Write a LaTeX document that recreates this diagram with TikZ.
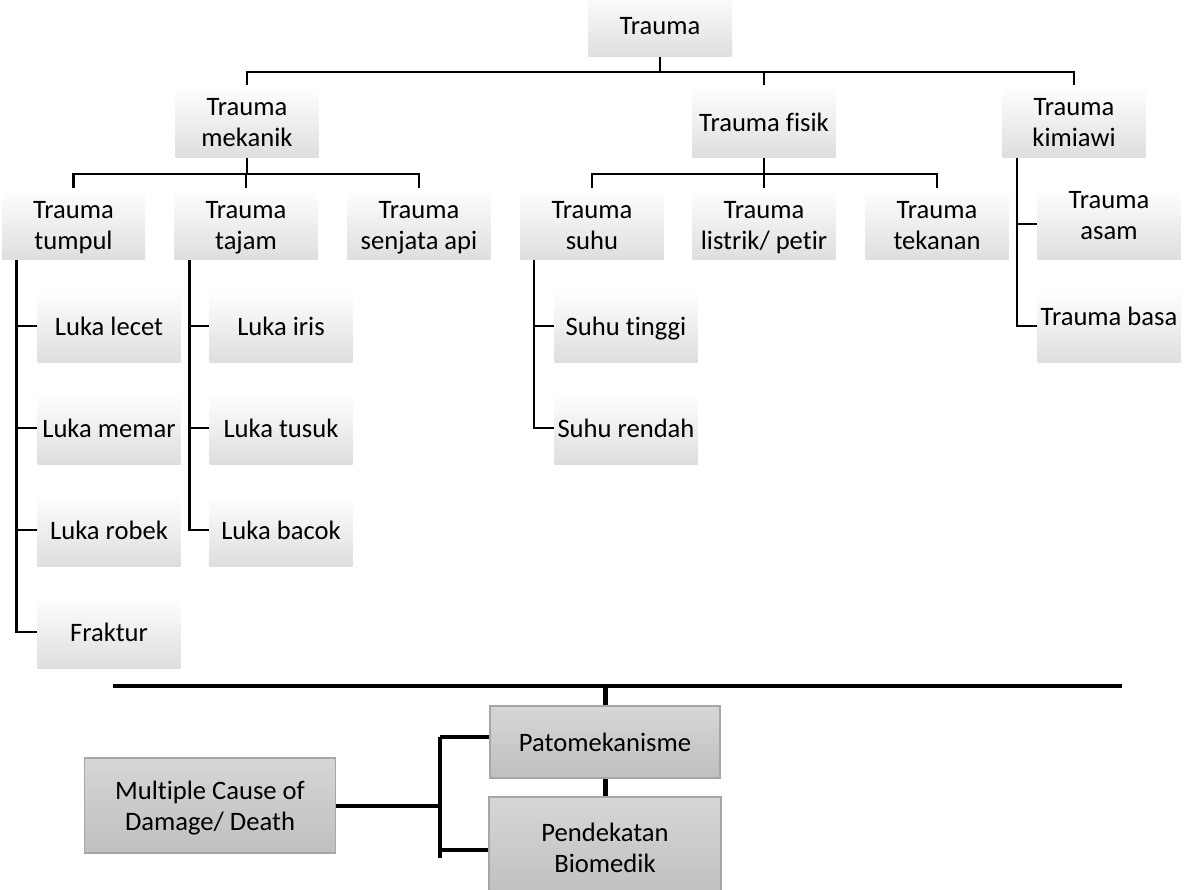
\documentclass[tikz,border=0pt]{standalone}
\usepackage{fontspec}
\setmainfont{Carlito}[Ligatures={NoCommon}]
\newcommand{\mydep}{\vphantom{gp}}
\newcommand{\mytop}{\rule{0pt}{24.5pt}}
\begin{document}
\begin{tikzpicture}[x=1pt,y=-1pt,
 tl/.style={line width=2.6pt},
 bl/.style={line width=4pt},
 vbl/.style={line width=5pt},
 every node/.style={font=\fontsize{26.6}{31}\selectfont},
 tbox/.style={minimum width=143pt, minimum height=72pt, inner sep=0pt, align=center,
   top color=white, middle color=white, bottom color=black!13},
 tbare/.style={minimum width=143pt, minimum height=72pt, inner sep=0pt,
   top color=white, middle color=white, bottom color=black!13},
 ttext/.style={inner sep=0pt, align=center},
 bbox/.style={draw=black!35, line width=1.5pt, top color=black!16, bottom color=black!25,
   align=center, inner sep=0pt}
]
\fill[white] (0,0) rectangle (1185,890);
\useasboundingbox (0,0) rectangle (1185,890);

% level 1
\node[tbox, minimum height=64pt, minimum width=144pt] (trauma) at (660,25) {\mytop Trauma\mydep};
% level 2
\node[tbox] (mek) at (247,121.5) {\mytop Trauma\\mekanik\mydep};
\node[tbox] (fis) at (764,121.5) {\mytop Trauma fisik\mydep};
\node[tbox] (kim) at (1074,121.5) {\mytop Trauma\\kimiawi\mydep};
% level 3
\node[tbox] (tum) at (73.5,224) {\mytop Trauma\\tumpul\mydep};
\node[tbox] (taj) at (246,224) {\mytop Trauma\\tajam\mydep};
\node[tbox] (sen) at (419,224) {\mytop Trauma\\senjata api\mydep};
\node[tbox] (suh) at (592,224) {\mytop Trauma\\suhu\mydep};
\node[tbox] (lis) at (764,224) {\mytop Trauma\\listrik/ petir\mydep};
\node[tbox] (tek) at (937,224) {\mytop Trauma\\tekanan\mydep};
\node[tbare] (asam) at (1109,224) {};
\node[ttext] (asamt) at (1109,214) {\mytop Trauma\\asam\mydep};
\node[tbare] (basa) at (1109,326) {};
\node[ttext] (basat) at (1109,316) {\mytop Trauma basa\mydep};
% level 4
\node[tbox] (lecet) at (109,326) {\mytop Luka lecet\mydep};
\node[tbox] (memar) at (109,428) {\mytop Luka memar\mydep};
\node[tbox] (robek) at (109,530) {\mytop Luka robek\mydep};
\node[tbox] (fraktur) at (109,632) {\mytop Fraktur\mydep};
\node[tbox] (iris) at (281,326) {\mytop Luka iris\mydep};
\node[tbox] (tusuk) at (281,428) {\mytop Luka tusuk\mydep};
\node[tbox] (bacok) at (281,530) {\mytop Luka bacok\mydep};
\node[tbox] (tinggi) at (626,326) {\mytop Suhu tinggi\mydep};
\node[tbox] (rendah) at (626,428) {\mytop Suhu rendah\mydep};

% connectors level 1-2
\coordinate (j0) at (660,72);
\draw[tl] (trauma.south) -- (j0);
\draw[tl] (mek.north) -- (mek.north |- j0) -- (kim.north |- j0) -- (kim.north);
\draw[tl] (fis.north) -- (fis.north |- j0);
% level 2-3
\coordinate (j1) at (247,174);
\draw[tl] (mek.south) -- (j1);
\draw[tl] (tum.north) -- (tum.north |- j1) -- (sen.north |- j1) -- (sen.north);
\draw[tl] (taj.north) -- (taj.north |- j1);
\coordinate (j2) at (764,174);
\draw[tl] (fis.south) -- (j2);
\draw[tl] (suh.north) -- (suh.north |- j2) -- (tek.north |- j2) -- (tek.north);
\draw[tl] (lis.north) -- (lis.north |- j2);
% hanging
\draw[tl] ([xshift=14.5pt]tum.south west) |- (lecet.west);
\draw[tl] ([xshift=14.5pt]tum.south west) |- (memar.west);
\draw[tl] ([xshift=14.5pt]tum.south west) |- (robek.west);
\draw[tl] ([xshift=14.5pt]tum.south west) |- (fraktur.west);
\draw[tl] ([xshift=15pt]taj.south west) |- (iris.west);
\draw[tl] ([xshift=15pt]taj.south west) |- (tusuk.west);
\draw[tl] ([xshift=15pt]taj.south west) |- (bacok.west);
\draw[tl] ([xshift=13.5pt]suh.south west) |- (tinggi.west);
\draw[tl] ([xshift=13.5pt]suh.south west) |- (rendah.west);
\draw[tl] ([xshift=14.5pt]kim.south west) |- (asam.west);
\draw[tl] ([xshift=14.5pt]kim.south west) |- (basa.west);

% bottom part
\coordinate (h1) at (113,686);
\coordinate (h2) at (1122,686);
\draw[bl] (h1) -- (h2);
\node[bbox, minimum width=230pt, minimum height=72pt] (pato) at (605,742) {\mytop Patomekanisme\mydep};
\node[bbox, minimum width=232pt, minimum height=100pt] (pend) at (605,847) {\mytop Pendekatan\\Biomedik\mydep};
\node[bbox, minimum width=251pt, minimum height=95pt] (mcd) at (210,805.5) {\mytop Multiple Cause of\\Damage/ Death\mydep};
\draw[vbl] (pato.north) -- (pato.north |- h1);
\draw[vbl] (pato.south) -- (pend.north);
\coordinate (bt) at (440,737);
\coordinate (bb) at (440,858);
\coordinate (bm) at (440,850);
\draw[bl] (bt) -- (bb);
\draw[bl] (bt) -- (bt -| pato.west);
\draw[bl] (bm) -- (bm -| pend.west);
\draw[bl] (mcd.east) -- (mcd.east -| bt);
\end{tikzpicture}
\end{document}
